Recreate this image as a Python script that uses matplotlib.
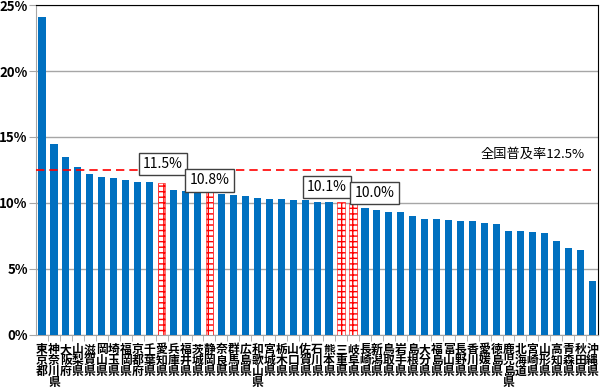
import matplotlib
matplotlib.use('Agg')

import matplotlib.pyplot as plt
import numpy as np

plt.rcParams['font.family'] = ['Noto Sans CJK JP', 'DejaVu Sans']

prefs = ["東京都", "神奈川県", "大阪府", "山梨県", "滋賀県", "岡山県", "埼玉県",
         "福岡県", "京都府", "千葉県", "愛知県", "兵庫県", "福井県", "茨城県",
         "静岡県", "奈良県", "群馬県", "広島県", "和歌山県", "宮城県", "栃木県",
         "山口県", "佐賀県", "石川県", "熊本県", "三重県", "岐阜県", "長崎県",
         "新潟県", "鳥取県", "岩手県", "島根県", "大分県", "福島県", "富山県",
         "長野県", "香川県", "愛媛県", "徳島県", "鹿児島県", "北海道", "宮崎県",
         "山形県", "高知県", "青森県", "秋田県", "沖縄県"]
rates = [24.1, 14.5, 13.5, 12.7, 12.2, 12.0, 11.9,
         11.7, 11.6, 11.6, 11.5, 11.0, 10.9, 10.9,
         10.8, 10.7, 10.6, 10.5, 10.4, 10.3, 10.3,
         10.2, 10.2, 10.1, 10.1, 10.1, 10.0, 9.6,
         9.5, 9.3, 9.3, 9.0, 8.8, 8.8, 8.7,
         8.6, 8.6, 8.5, 8.4, 7.9, 7.9, 7.8,
         7.7, 7.1, 6.6, 6.4, 4.1]
highlight = ["愛知県", "静岡県", "三重県", "岐阜県"]
national = 12.5

c_bar = "#0070c0"
c_grid = "#a6a6a6"

fig = plt.figure(figsize=(6, 3.88), dpi=100)
ax = fig.add_axes([0.06, 0.137, 0.937, 0.85])

x = np.arange(len(prefs))
for i, (p, v) in enumerate(zip(prefs, rates)):
    if p in highlight:
        ax.bar(i, v, width=0.6, color='white', edgecolor='red',
               hatch='+++', linewidth=0.4, zorder=3)
    else:
        ax.bar(i, v, width=0.6, color=c_bar, zorder=3)

ax.set_xlim(-0.5, len(prefs) - 0.5)
ax.set_ylim(0, 25)
ax.set_yticks(np.arange(0, 26, 5))
ax.set_yticklabels(["%d%%" % t for t in range(0, 26, 5)],
                   fontsize=9.5, fontweight='bold')
ax.yaxis.grid(True, color=c_grid, linewidth=1)
ax.set_axisbelow(True)

ax.set_xticks(x)
ax.set_xticklabels(["\n".join(p) for p in prefs], fontsize=8.5,
                   fontweight='bold', linespacing=0.78, va='top')
ax.tick_params(axis='x', length=0, pad=6)
ax.set_xticks(x[:-1] + 0.5, minor=True)
ax.tick_params(axis='x', which='minor', length=4, color=c_grid, direction='out')
ax.tick_params(axis='y', length=5, color=c_grid, pad=1)

for s in ['left', 'bottom']:
    ax.spines[s].set_color(c_grid)
for s in ['top', 'right']:
    ax.spines[s].set_color('black')

ax.axhline(national, xmin=0, xmax=0.99, color='red', linestyle=(0, (5, 3)),
           linewidth=1.2, zorder=4)
ax.text(45.4, 13.7, "全国普及率12.5%", fontsize=9.5, ha='right', va='center')

box = dict(boxstyle='square,pad=0.3', facecolor='white', edgecolor='#404040',
           linewidth=1)
labels = [("11.5%", 10.1, 12.95), ("10.8%", 14.0, 11.7),
          ("10.1%", 23.8, 11.2), ("10.0%", 27.8, 10.75)]
for t, lx, ly in labels:
    ax.text(lx, ly, t, fontsize=10, ha='center', va='center', bbox=box, zorder=5)

plt.savefig("out.png", dpi=100)
